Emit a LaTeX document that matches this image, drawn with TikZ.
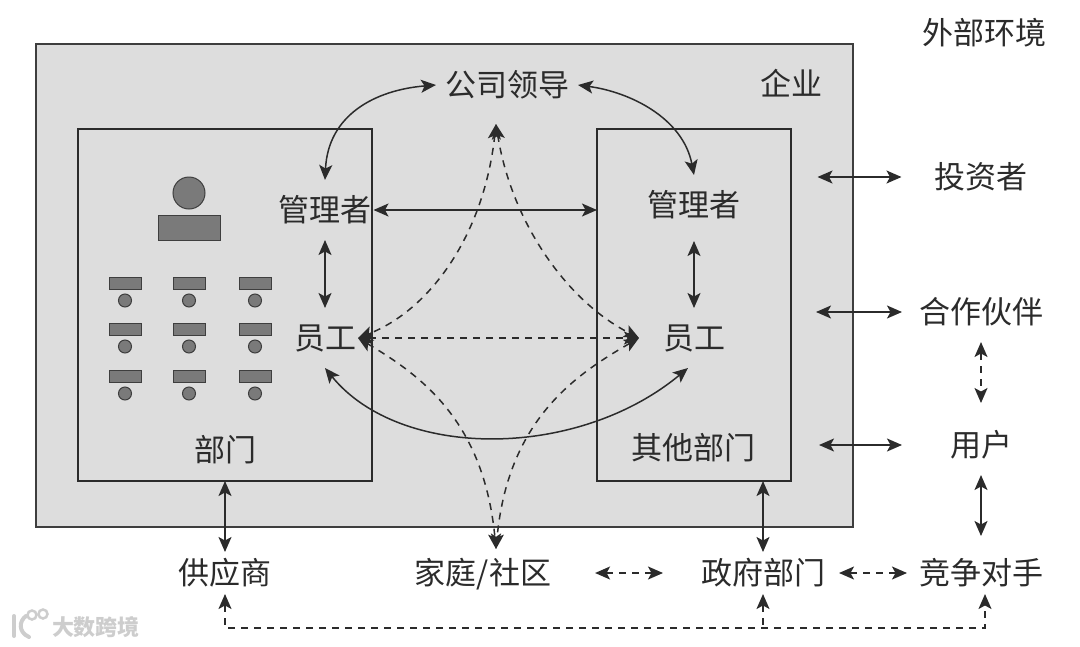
\documentclass[tikz,border=0pt]{standalone}
\usepackage{fontspec}
\newfontfamily\cjkfont{Noto Sans CJK SC}
\usepackage{xcolor}
\definecolor{firmBack}  {HTML}{DDDDDD}
\definecolor{inkDark}   {HTML}{2B2B2B}
\definecolor{deskFill}  {HTML}{7A7A7A}
\definecolor{deskLine}  {HTML}{3E3E3E}
\definecolor{markGray}  {HTML}{CDCDCD}
\usetikzlibrary{arrows.meta, positioning, calc}
\tikzset{
    lbl/.style={font=\cjkfont\fontsize{31}{31}\selectfont, text=inkDark, text height=26pt, text depth=4pt,
                inner xsep=2pt, inner ysep=15pt, outer sep=0pt},
    extlbl/.style={lbl, inner ysep=6pt},
    firmbox/.style={draw=deskLine, fill=firmBack, line width=1.4pt, inner sep=0pt, outer sep=0pt},
    deptbox/.style={draw=inkDark, line width=1.3pt, inner sep=0pt, outer sep=0pt},
    bossbar/.style={rectangle, draw=deskLine, fill=deskFill, line width=1pt, minimum width=62pt, minimum height=25pt, inner sep=0pt},
    bosshead/.style={circle, draw=deskLine, fill=deskFill, line width=1pt, minimum size=32pt, inner sep=0pt},
    deskbar/.style={rectangle, draw=deskLine, fill=deskFill, line width=1pt, minimum width=32pt, minimum height=12pt, inner sep=0pt},
    deskhead/.style={circle, draw=deskLine, fill=deskFill, line width=1pt, minimum size=13pt, inner sep=0pt},
    biedge/.style={<->, >={Stealth[length=15pt, width=13pt, inset=3.5pt]}, line width=1.5pt, draw=inkDark},
    dashedge/.style={biedge, dash pattern=on 7pt off 6pt},
    upedge/.style={biedge, <-, dash pattern=on 7pt off 6pt},
    wmark/.style={draw=markGray, line width=4pt, line cap=round},
}

\begin{document}
\begin{tikzpicture}[x=1pt, y=-1pt]
    \useasboundingbox (0,0) rectangle (1080,646);
    % firm and its departments
    \node[firmbox, minimum width=817pt, minimum height=483pt] (firm) at (444.5,285.5) {};
    \node[deptbox, minimum width=294pt, minimum height=352pt] (deptL) at (225,305) {};
    \node[deptbox, minimum width=194pt, minimum height=352pt] (deptR) at (694,305) {};
    % labels inside the firm
    \node[lbl] (firmname) at (791,84) {企业};
    \node[lbl, inner xsep=9pt] (lead) at (507,85) {公司领导};
    \node[lbl] (mgrL) at (325,210) {管理者};
    \node[lbl] (mgrR) at (694,205) {管理者};
    \node[lbl] (empL) at (325,338) {员工};
    \node[lbl] (empR) at (694,338) {员工};
    \node[lbl] (deptnameL) at (225,450) {部门};
    \node[lbl] (deptnameR) at (693,448) {其他部门};
    % outside the firm
    \node[lbl] (world) at (984,33) {外部环境};
    \node[lbl] (investor) at (981,177) {投资者};
    \node[lbl] (partner) at (981,312) {合作伙伴};
    \node[lbl] (customer) at (981,445) {用户};
    \node[extlbl] (supplier) at (225,573) {供应商};
    \node[extlbl] (family) at (483,573) {家庭/社区};
    \node[extlbl] (gov) at (763,573) {政府部门};
    \node[extlbl] (rival) at (981,573) {竞争对手};
    % boss
    \node[bossbar] (boss) at (189,227.5) {};
    \node[bosshead, above=5pt of boss] (bosstop) {};
    % desks, row 1
    \node[deskbar] (desk11) at (125,283) {};
    \node[deskhead, below=4pt of desk11] (head11) {};
    \node[deskbar] (desk12) at (189,283) {};
    \node[deskhead, below=4pt of desk12] (head12) {};
    \node[deskbar] (desk13) at (255,283) {};
    \node[deskhead, below=4pt of desk13] (head13) {};
    % desks, row 2
    \node[deskbar] (desk21) at (125,329) {};
    \node[deskhead, below=4pt of desk21] (head21) {};
    \node[deskbar] (desk22) at (189,329) {};
    \node[deskhead, below=4pt of desk22] (head22) {};
    \node[deskbar] (desk23) at (255,329) {};
    \node[deskhead, below=4pt of desk23] (head23) {};
    % desks, row 3
    \node[deskbar] (desk31) at (125,376) {};
    \node[deskhead, below=4pt of desk31] (head31) {};
    \node[deskbar] (desk32) at (189,376) {};
    \node[deskhead, below=4pt of desk32] (head32) {};
    \node[deskbar] (desk33) at (255,376) {};
    \node[deskhead, below=4pt of desk33] (head33) {};
    % free ends
    \coordinate (peak) at (496,124);
    \coordinate (foot) at (496,549);
    \coordinate[left=22pt of empR] (hub);
    \coordinate[left=115pt of investor] (investorend);
    \coordinate[left=101pt of partner] (partnerend);
    \coordinate[left=129pt of customer] (customerend);
    \coordinate (railend) at (985,628);
    % solid links
    \draw[biedge] (lead.west) .. controls (375,90) and (328,115) .. (mgrL.north);
    \draw[biedge] (lead.east) .. controls (630,92) and (683,118) .. (mgrR.north);
    \draw[biedge] (mgrL.east) -- (mgrL.east -| deptR.west);
    \draw[biedge] (mgrL) -- (empL);
    \draw[biedge, shorten <=6pt] (mgrR) -- (empR);
    \draw[biedge] (empL.south) .. controls (400,460) and (577,460) .. ([xshift=-6pt]empR.south);
    \draw[biedge, shorten >=31pt] (investorend) -- (investor.west);
    \draw[biedge, shorten >=15pt] (partnerend) -- (partner.west);
    \draw[biedge, shorten >=46pt] (customerend) -- (customer.west);
    \draw[biedge, shorten >=16pt] (customer) -- (rival);
    \draw[biedge] (supplier.north |- deptL.south) -- (supplier.north);
    \draw[biedge] (gov.north |- deptR.south) -- (gov.north);
    % dashed links
    \draw[dashedge] (peak) .. controls (484,235) and (430,310) .. (empL.east);
    \draw[dashedge] (peak) .. controls (511,220) and (565,300) .. (hub);
    \draw[dashedge] (empL.east) -- (hub);
    \draw[dashedge] (empL.east) .. controls (420,375) and (484,420) .. (foot);
    \draw[dashedge] (hub) .. controls (575,375) and (508,420) .. (foot);
    \draw[dashedge, shorten >=12pt] (partner) -- (customer);
    \draw[dashedge, shorten <=42pt, shorten >=36pt] (family.east) -- (gov.west);
    \draw[dashedge, shorten <=12pt, shorten >=10pt] (gov.east) -- (rival.west);
    \draw[dashedge] (supplier.south) |- (railend) -- (railend |- rival.south);
    \draw[upedge] (gov.south) -- (gov.south |- railend);
    % watermark
    \node[font=\cjkfont\bfseries\fontsize{22}{22}\selectfont, text=markGray, inner sep=0pt] (markname) at (96,627) {大数跨境};
    \draw[wmark] (14,616) -- (14,636);
    \draw[wmark] (26,616) .. controls (19,621) and (18,632) .. (29,637);
    \draw[wmark, line width=2.5pt] (32,615) circle (4.5pt);
    \draw[wmark, line width=2.5pt] (43,614) circle (4.5pt);
\end{tikzpicture}
\end{document}
